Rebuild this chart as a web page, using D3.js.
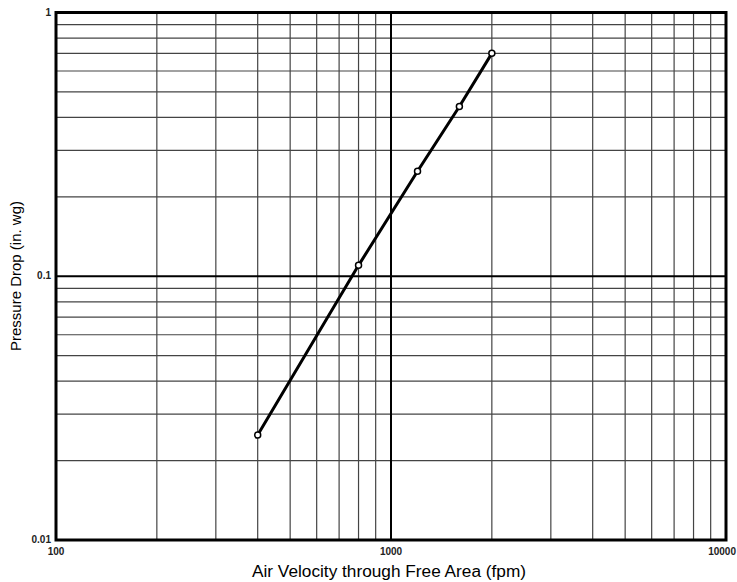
<!DOCTYPE html>
<html>
<head>
<meta charset="utf-8">
<script src="https://cdn.jsdelivr.net/npm/d3@7"></script>
<style>
  body { margin: 0; background: #fff; }
  text { font-family: "Liberation Sans", Arial, sans-serif; }
</style>
</head>
<body>
<div id="graph"></div>
<script>
// Données
var velocity = [400, 800, 1200, 1600, 2000];          // fpm
var pressure = [0.025, 0.11, 0.25, 0.44, 0.70];       // in. wg
var xTicks = [100, 1000, 10000];
var yTicks = [0.01, 0.1, 1];
var xTickLabels = ["100", "1000", "10000"];
var yTickLabels = ["0.01", "0.1", "1"];

// Dimensions du graphique
var W = 737, H = 582;
var margin = {top: 12.5, right: 11, bottom: 42, left: 56};
var width = W - margin.left - margin.right;
var height = H - margin.top - margin.bottom;

var svg = d3.select("#graph").append("svg")
    .attr("width", W)
    .attr("height", H);
var graph = svg.append("g")
    .attr("transform", "translate(" + margin.left + "," + margin.top + ")");

var x = d3.scaleLog().domain([100, 10000]).range([0, width]);
var y = d3.scaleLog().domain([0.01, 1]).range([height, 0]);

// Grille mineure (2..9 par décade)
var minorX = [], minorY = [];
[100, 1000].forEach(function(d) { for (var k = 2; k <= 9; k++) minorX.push(d * k); });
[0.01, 0.1].forEach(function(d) { for (var k = 2; k <= 9; k++) minorY.push(d * k); });

graph.selectAll(".vminor").data(minorX).enter().append("line")
    .attr("x1", d => x(d)).attr("x2", d => x(d))
    .attr("y1", 0).attr("y2", height)
    .attr("stroke", "#444").attr("stroke-width", 1.2);
graph.selectAll(".hminor").data(minorY).enter().append("line")
    .attr("x1", 0).attr("x2", width)
    .attr("y1", d => y(d)).attr("y2", d => y(d))
    .attr("stroke", "#444").attr("stroke-width", 1.2);

// Grille majeure
graph.selectAll(".vmajor").data(xTicks).enter().append("line")
    .attr("x1", d => x(d)).attr("x2", d => x(d))
    .attr("y1", 0).attr("y2", height)
    .attr("stroke", "#000").attr("stroke-width", 2);
graph.selectAll(".hmajor").data(yTicks).enter().append("line")
    .attr("x1", 0).attr("x2", width)
    .attr("y1", d => y(d)).attr("y2", d => y(d))
    .attr("stroke", "#000").attr("stroke-width", 2);

// Cadre
graph.append("rect")
    .attr("x", 0).attr("y", 0).attr("width", width).attr("height", height)
    .attr("fill", "none").attr("stroke", "#000").attr("stroke-width", 3);

// Étiquettes des axes
graph.selectAll(".xlab").data(xTicks).enter().append("text")
    .attr("x", (d, i) => i == xTicks.length - 1 ? x(d) + 10 : x(d))
    .attr("y", height + 15)
    .attr("text-anchor", (d, i) => i == xTicks.length - 1 ? "end" : "middle")
    .attr("font-size", 10).attr("font-weight", "bold").attr("fill", "#222")
    .text((d, i) => xTickLabels[i]);
graph.selectAll(".ylab").data(yTicks).enter().append("text")
    .attr("x", -5).attr("y", d => y(d) + 3)
    .attr("text-anchor", "end")
    .attr("font-size", 10).attr("font-weight", "bold").attr("fill", "#222")
    .text((d, i) => yTickLabels[i]);

svg.append("text")
    .attr("x", 389).attr("y", 577)
    .attr("text-anchor", "middle").attr("font-size", 16).attr("fill", "#000")
    .attr("textLength", 274).attr("lengthAdjust", "spacingAndGlyphs")
    .text("Air Velocity through Free Area (fpm)");
svg.append("text")
    .attr("transform", "translate(21,276) rotate(-90)")
    .attr("text-anchor", "middle").attr("font-size", 15).attr("fill", "#000")
    .text("Pressure Drop (in. wg)");

// Courbe
var data = velocity.map((v, i) => ({x: v, y: pressure[i]}));
var line = d3.line().x(d => x(d.x)).y(d => y(d.y));
graph.append("path")
    .datum(data)
    .attr("fill", "none")
    .attr("stroke", "#000")
    .attr("stroke-width", 3)
    .attr("d", line);
graph.selectAll(".pt").data(data).enter().append("circle")
    .attr("cx", d => x(d.x)).attr("cy", d => y(d.y))
    .attr("r", 3)
    .attr("fill", "#fff").attr("stroke", "#000").attr("stroke-width", 1.5);
</script>
</body>
</html>
